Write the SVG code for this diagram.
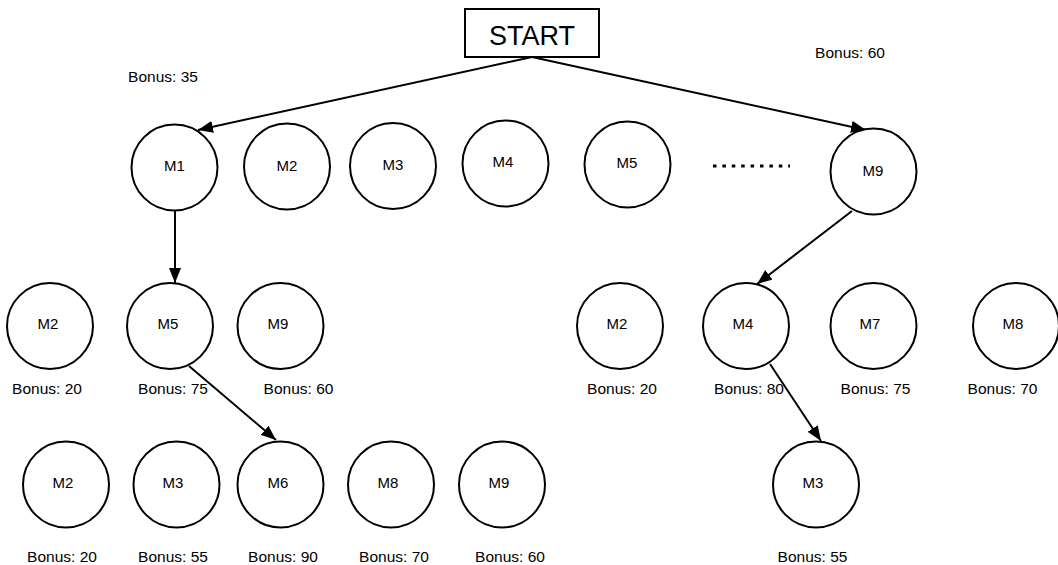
<svg xmlns="http://www.w3.org/2000/svg" width="1058" height="565" viewBox="0 0 1058 565">
<style>
  .n circle { fill: #ffffff; stroke: #000000; stroke-width: 2; }
  .n rect { fill: #ffffff; stroke: #000000; stroke-width: 2; }
  text { font-family: "Liberation Sans", Arial, sans-serif; fill: #000000; text-anchor: middle; }
  .m { font-size: 15px; }
  .b { font-size: 15.5px; }
  .s { font-size: 27px; }
  #edges line { stroke: #000000; stroke-width: 2; fill: none; }
</style>
<defs>
  <marker id="arr" viewBox="0 0 15 12" refX="15" refY="6" markerWidth="15" markerHeight="12" markerUnits="userSpaceOnUse" orient="auto">
    <path d="M0,0 L15,6 L0,12 z" fill="#000000"/>
  </marker>
</defs>
<rect width="1058" height="565" fill="#ffffff"/>

<g id="edges">
  <line x1="532" y1="57" x2="198" y2="130" marker-end="url(#arr)"/>
  <line x1="532" y1="57" x2="866" y2="130" marker-end="url(#arr)"/>
  <line x1="175" y1="211" x2="175" y2="283" marker-end="url(#arr)"/>
  <line x1="189" y1="366" x2="276" y2="440" marker-end="url(#arr)"/>
  <line x1="852" y1="211" x2="757" y2="284" marker-end="url(#arr)"/>
  <line x1="770" y1="364" x2="821" y2="441" marker-end="url(#arr)"/>
</g>

<g id="start" class="n"><rect x="465" y="9" width="134" height="48"/><text class="s" x="532" y="45">START</text></g>

<g id="r1-m1" class="n"><circle cx="174.5" cy="167.5" r="43"/><text class="m" x="174.5" y="171">M1</text></g>
<g id="r1-m2" class="n"><circle cx="287" cy="166.5" r="43"/><text class="m" x="287" y="170.5">M2</text></g>
<g id="r1-m3" class="n"><circle cx="393" cy="166" r="43"/><text class="m" x="393" y="170">M3</text></g>
<g id="r1-m4" class="n"><circle cx="505.5" cy="163.5" r="43"/><text class="m" x="503" y="167">M4</text></g>
<g id="r1-m5" class="n"><circle cx="627.5" cy="164.5" r="43"/><text class="m" x="627" y="168">M5</text></g>
<g id="r1-dots"><line x1="713" y1="166" x2="790" y2="166" stroke="#000000" stroke-width="3" stroke-dasharray="3.5 5.9"/></g>
<g id="r1-m9" class="n"><circle cx="873.5" cy="171.5" r="43"/><text class="m" x="873" y="176">M9</text></g>
<text class="b" x="163" y="82">Bonus: 35</text>
<text class="b" x="850" y="58">Bonus: 60</text>

<g id="r2-m2" class="n"><circle cx="50" cy="326" r="43"/><text class="m" x="48" y="329">M2</text><text class="b" x="47" y="394">Bonus: 20</text></g>
<g id="r2-m5" class="n"><circle cx="170" cy="326" r="43"/><text class="m" x="168" y="329">M5</text><text class="b" x="173" y="394">Bonus: 75</text></g>
<g id="r2-m9" class="n"><circle cx="280.5" cy="326" r="43"/><text class="m" x="278" y="329">M9</text><text class="b" x="298.5" y="394">Bonus: 60</text></g>
<g id="r2-m2b" class="n"><circle cx="620" cy="326" r="43"/><text class="m" x="617" y="329">M2</text><text class="b" x="622" y="394">Bonus: 20</text></g>
<g id="r2-m4" class="n"><circle cx="746" cy="326" r="43"/><text class="m" x="743" y="329">M4</text><text class="b" x="749" y="394">Bonus: 80</text></g>
<g id="r2-m7" class="n"><circle cx="873.5" cy="326" r="43"/><text class="m" x="870" y="329">M7</text><text class="b" x="875.5" y="394">Bonus: 75</text></g>
<g id="r2-m8" class="n"><circle cx="1016" cy="326" r="43"/><text class="m" x="1013" y="329">M8</text><text class="b" x="1002.5" y="394">Bonus: 70</text></g>

<g id="r3-m2" class="n"><circle cx="66" cy="484.5" r="43"/><text class="m" x="63" y="488">M2</text><text class="b" x="62" y="562">Bonus: 20</text></g>
<g id="r3-m3" class="n"><circle cx="176.5" cy="484.5" r="43"/><text class="m" x="173" y="488">M3</text><text class="b" x="173" y="562">Bonus: 55</text></g>
<g id="r3-m6" class="n"><circle cx="280.5" cy="484.5" r="43"/><text class="m" x="278" y="488">M6</text><text class="b" x="283" y="562">Bonus: 90</text></g>
<g id="r3-m8" class="n"><circle cx="391" cy="484.5" r="43"/><text class="m" x="388" y="488">M8</text><text class="b" x="394" y="562">Bonus: 70</text></g>
<g id="r3-m9" class="n"><circle cx="502" cy="484.5" r="43"/><text class="m" x="499" y="488">M9</text><text class="b" x="510" y="562">Bonus: 60</text></g>
<g id="r3-m3b" class="n"><circle cx="816" cy="484.5" r="43"/><text class="m" x="813" y="488">M3</text><text class="b" x="812.5" y="562">Bonus: 55</text></g>
</svg>
